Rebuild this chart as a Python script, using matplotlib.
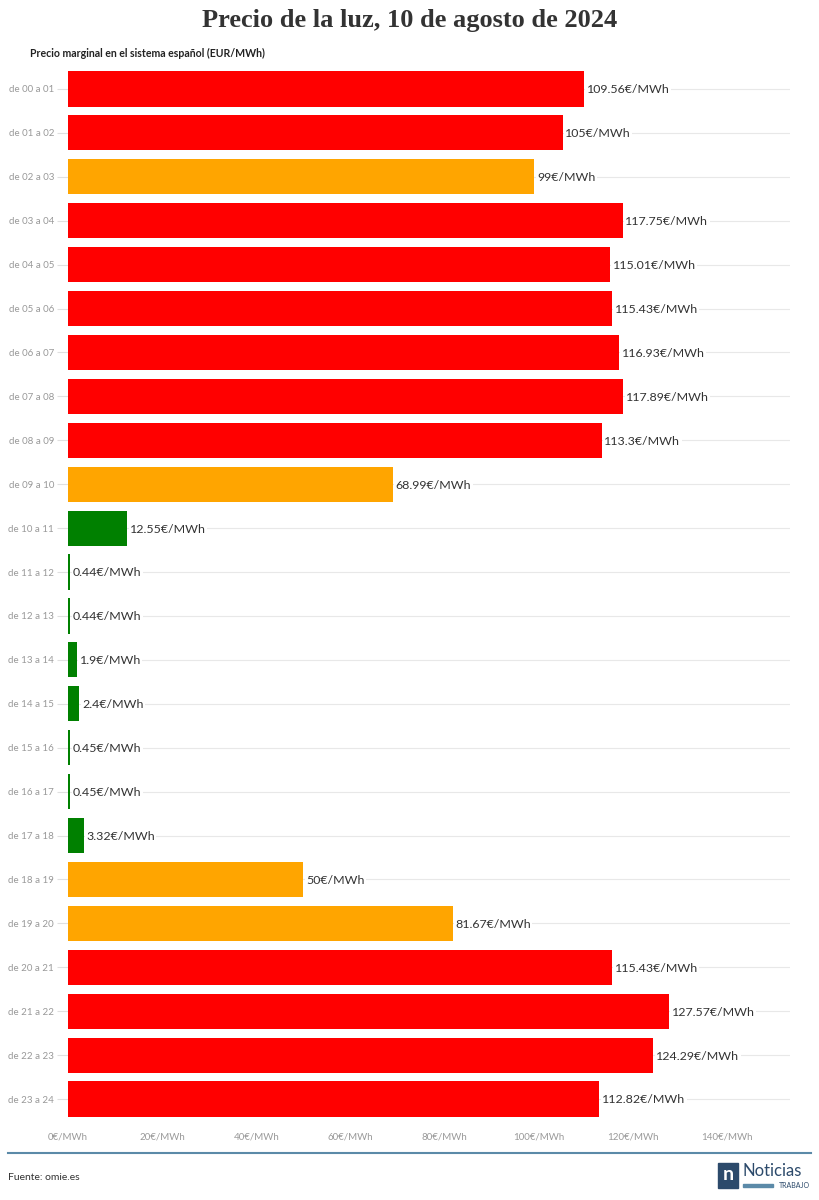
import matplotlib.pyplot as plt
from matplotlib.patches import Rectangle

# Data
hours = ['de 00 a 01', 'de 01 a 02', 'de 02 a 03', 'de 03 a 04', 'de 04 a 05', 'de 05 a 06',
         'de 06 a 07', 'de 07 a 08', 'de 08 a 09', 'de 09 a 10', 'de 10 a 11', 'de 11 a 12',
         'de 12 a 13', 'de 13 a 14', 'de 14 a 15', 'de 15 a 16', 'de 16 a 17', 'de 17 a 18',
         'de 18 a 19', 'de 19 a 20', 'de 20 a 21', 'de 21 a 22', 'de 22 a 23', 'de 23 a 24']
prices = [109.56, 105, 99, 117.75, 115.01, 115.43, 116.93, 117.89, 113.3, 68.99, 12.55, 0.44,
          0.44, 1.9, 2.4, 0.45, 0.45, 3.32, 50, 81.67, 115.43, 127.57, 124.29, 112.82]
levels = ['high', 'high', 'mid', 'high', 'high', 'high', 'high', 'high', 'high', 'mid', 'low', 'low',
          'low', 'low', 'low', 'low', 'low', 'low', 'mid', 'mid', 'high', 'high', 'high', 'high']
xticks = [0, 20, 40, 60, 80, 100, 120, 140]

level_colors = {'high': '#FF0000', 'mid': '#FFA500', 'low': '#008000'}
colors = [level_colors[l] for l in levels]

plt.rcParams['font.family'] = ['Lato', 'DejaVu Sans']

fig = plt.figure(figsize=(8.19, 12), dpi=100)
ax = fig.add_axes([68 / 819, 1 - 1121 / 1200, (790 - 68) / 819, (1121 - 67) / 1200])

y = list(range(len(hours)))
# light horizontal guide lines
for yi in y:
    ax.axhline(yi, color='#e8e8e8', linewidth=0.8, zorder=0)
ax.barh(y, prices, height=0.8, color=colors, zorder=2)

for yi, p in zip(y, prices):
    ax.text(p + 0.6, yi + 0.02, f'{p:g}€/MWh', va='center', ha='left', fontsize=8.9,
            color='#333333', zorder=3,
            bbox=dict(facecolor='white', edgecolor='none', pad=1))

ax.set_xlim(0, 153.3)
ax.set_ylim(len(hours) - 0.5, -0.5)
ax.set_yticks(y)
ax.set_yticklabels(hours, fontsize=7, color='#999999')
ax.set_xticks(xticks)
ax.set_xticklabels([f'{t}€/MWh' for t in xticks], fontsize=7, color='#999999')
ax.tick_params(axis='y', length=8, color='#e0e0e0', pad=2)
ax.tick_params(axis='x', length=0, pad=8)
for s in ax.spines.values():
    s.set_visible(False)

fig.text(0.5, 1 - 21 / 1200, 'Precio de la luz, 10 de agosto de 2024', ha='center', va='center',
         fontsize=19, fontweight='bold', color='#333333', family='Liberation Serif')
fig.text(30 / 819, 1 - 53 / 1200, 'Precio marginal en el sistema español (EUR/MWh)', ha='left',
         va='center', fontsize=7.6, fontweight='bold', color='#222222')

# footer
fig.add_artist(plt.Line2D([8 / 819, 811 / 819], [1 - 1153 / 1200] * 2, color='#5b8aa8', linewidth=1.5))
fig.text(8 / 819, 1 - 1177 / 1200, 'Fuente: omie.es', ha='left', va='center', fontsize=7.5, color='#333333')
fig.add_artist(Rectangle((718 / 819, 1 - 1188 / 1200), 20 / 819, 25 / 1200, color='#2c4a6b',
                         transform=fig.transFigure))
fig.text(728 / 819, 1 - 1175 / 1200, 'n', ha='center', va='center', fontsize=14, color='white',
         fontweight='bold')
fig.text(742 / 819, 1 - 1171 / 1200, 'Noticias', ha='left', va='center', fontsize=12, color='#2c4a6b')
fig.add_artist(Rectangle((743 / 819, 1 - 1187 / 1200), 30 / 819, 3 / 1200, color='#5b8aa8',
                         transform=fig.transFigure))
fig.text(810 / 819, 1 - 1185 / 1200, 'TRABAJO', ha='right', va='center', fontsize=5, color='#2c4a6b')

fig.savefig('out.png', dpi=100)
